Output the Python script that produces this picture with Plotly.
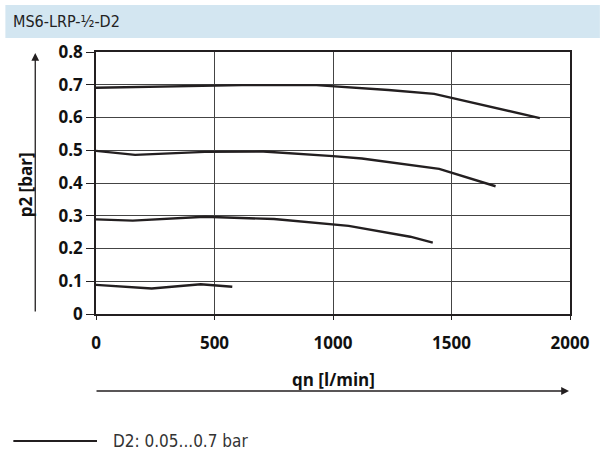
import plotly.graph_objects as go

# Data (qn in l/min, p2 in bar)
qn_07 = [0, 491, 616, 930, 1000, 1234, 1427, 1873]
p2_07 = [0.691, 0.698, 0.699, 0.699, 0.696, 0.684, 0.672, 0.598]

qn_05 = [0, 165, 459, 706, 1000, 1122, 1448, 1686]
p2_05 = [0.498, 0.486, 0.495, 0.496, 0.482, 0.475, 0.443, 0.390]

qn_03 = [0, 155, 459, 751, 1066, 1326, 1421]
p2_03 = [0.289, 0.285, 0.297, 0.290, 0.269, 0.236, 0.218]

qn_01 = [0, 235, 442, 575]
p2_01 = [0.089, 0.078, 0.091, 0.083]

x_ticks = [0, 500, 1000, 1500, 2000]
y_ticks = [0, 0.1, 0.2, 0.3, 0.4, 0.5, 0.6, 0.7, 0.8]
y_ticktext = ["0", "0.1", "0.2", "0.3", "0.4", "0.5", "0.6", "0.7", "0.8"]

title_text = "MS6-LRP-½-D2"
legend_text = "D2: 0.05...0.7 bar"
x_label = "qn [l/min]"
y_label = "p2 [bar]"

LINE = "#231f20"
FONT = "Open Sans"
COND = "DejaVu Sans Condensed, Open Sans"

fig = go.Figure()
for xs, ys in [(qn_07, p2_07), (qn_05, p2_05), (qn_03, p2_03), (qn_01, p2_01)]:
    fig.add_trace(go.Scatter(x=xs, y=ys, mode="lines",
                             line=dict(color=LINE, width=2.4),
                             showlegend=False, hoverinfo="skip"))

L, R, T, B = 96, 30, 52, 147
W, H = 602, 461
pw, ph = W - L - R, H - T - B

def px_x(p):
    return (p - L) / pw

def px_y(p):
    return (H - B - p) / ph

tickfont = dict(family=FONT, size=17, color="#111", weight="bold")

fig.update_layout(
    width=W, height=H,
    margin=dict(l=L, r=R, t=T, b=B),
    plot_bgcolor="white", paper_bgcolor="white",
    xaxis=dict(range=[0, 2000], tickvals=x_ticks, ticktext=[str(v) for v in x_ticks],
               showgrid=True, gridcolor="#444", gridwidth=1,
               showline=True, linecolor=LINE, linewidth=1.5, mirror=True,
               ticks="outside", ticklen=4, tickcolor=LINE, ticklabelstandoff=9,
               tickfont=tickfont, zeroline=False, fixedrange=True),
    yaxis=dict(range=[0, 0.8], tickvals=y_ticks, ticktext=y_ticktext,
               showgrid=True, gridcolor="#444", gridwidth=1,
               showline=True, linecolor=LINE, linewidth=1.5, mirror=True,
               ticks="outside", ticklen=8, tickcolor=LINE,
               tickfont=tickfont, zeroline=False, fixedrange=True),
    shapes=[
        dict(type="rect", xref="paper", yref="paper",
             x0=px_x(5), x1=px_x(602), y0=px_y(38), y1=px_y(5),
             fillcolor="#d3e6f1", line=dict(width=0), layer="below"),
        dict(type="line", xref="paper", yref="paper",
             x0=px_x(13), x1=px_x(97), y0=px_y(441), y1=px_y(441),
             line=dict(color=LINE, width=2)),
    ],
    annotations=[
        dict(text=title_text, xref="paper", yref="paper", x=px_x(11), y=px_y(22),
             xanchor="left", yanchor="middle", showarrow=False,
             font=dict(family=COND, size=16, color="#222")),
        dict(text=legend_text, xref="paper", yref="paper", x=px_x(111), y=px_y(441),
             xanchor="left", yanchor="middle", showarrow=False,
             font=dict(family=COND, size=17, color="#333")),
        dict(text=x_label, xref="paper", yref="paper", x=px_x(335), y=px_y(379),
             xanchor="center", yanchor="middle", showarrow=False,
             font=dict(family=FONT, size=17, color="#111", weight="bold")),
        dict(text=y_label, xref="paper", yref="paper", x=px_x(25), y=px_y(185),
             xanchor="center", yanchor="middle", showarrow=False, textangle=-90,
             font=dict(family=FONT, size=17, color="#111", weight="bold")),
        # axis arrows
        dict(text="", xref="paper", yref="paper", x=px_x(571), y=px_y(391),
             ax=-474, ay=0, showarrow=True, arrowhead=2, arrowsize=1.2,
             arrowwidth=1.3, arrowcolor=LINE),
        dict(text="", xref="paper", yref="paper", x=px_x(35), y=px_y(53),
             ax=0, ay=260, showarrow=True, arrowhead=2, arrowsize=1.2,
             arrowwidth=1.3, arrowcolor=LINE),
    ],
)

fig.write_html("out.html", config={"displayModeBar": False},
               post_script="document.body.style.margin='0px';")
